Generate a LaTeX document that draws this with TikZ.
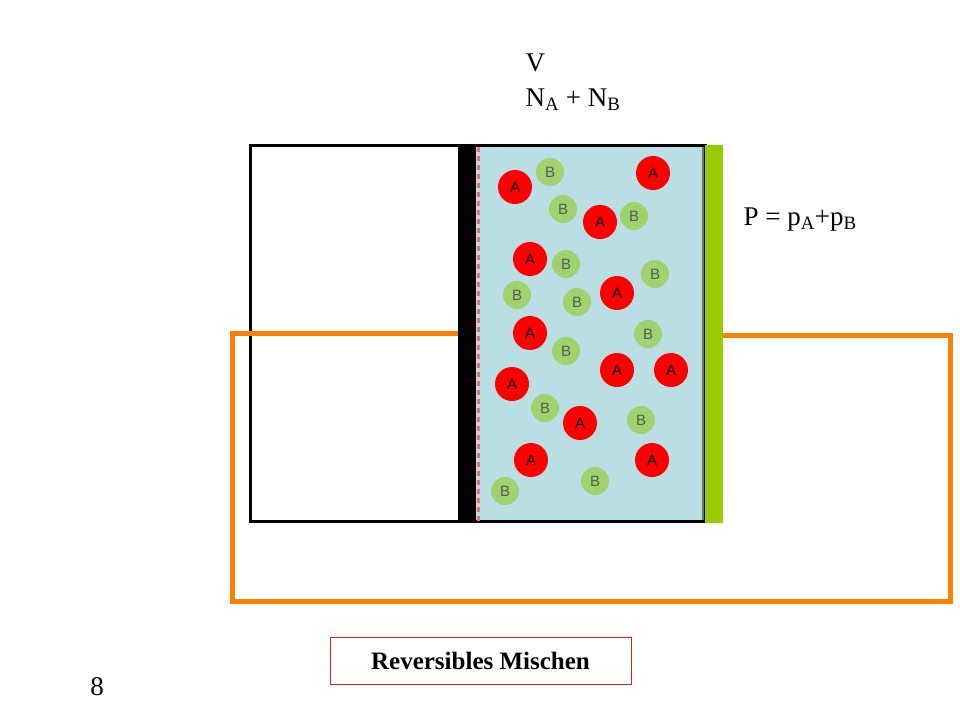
\documentclass[tikz,border=0pt]{standalone}
\usepackage{fontspec}
\setmainfont{Liberation Serif}
\newfontfamily\sansf{Liberation Sans}
\usepackage{tikz}
\definecolor{gasblue}{RGB}{185,222,228}
\definecolor{wallgreen}{RGB}{153,204,0}
\definecolor{ballgreen}{RGB}{160,210,110}
\definecolor{pipeorange}{RGB}{250,130,0}
\definecolor{boxred}{RGB}{220,30,30}
\tikzset{
	partA/.style={circle,fill=red,minimum size=34pt,inner sep=0pt,font=\sansf\fontsize{15}{15}\selectfont},
	partB/.style={circle,fill=ballgreen,minimum size=28pt,inner sep=0pt,text=black!65,font=\sansf\fontsize{15}{15}\selectfont},
	lbl/.style={font=\fontsize{27}{30}\selectfont}
}
\begin{document}
\begin{tikzpicture}[x=1pt,y=-1pt]
	\useasboundingbox (0,0) rectangle (960,720);
	
	\fill[gasblue] (476,147) rectangle (703,521);
	\draw[black!55,line width=2pt] (703,147) -- (703,521);
	\draw[line width=3pt] (250,145) rectangle (705,521);
	\fill[black] (458,145) rectangle (476,521);
	\draw[red!60,line width=3pt,dash pattern=on 5pt off 4pt] (478,147) -- (478,521);
	\fill[wallgreen] (705,145) rectangle (723,523);
	
	\draw[pipeorange,line width=5pt] (458,333) -- (232,333) -- (232,601) -- (950,601) -- (950,335) -- (723,335);
	
	\foreach \x/\y [count=\i] in {515/187,653/173,600/222,530/259,617/293,530/333,617/370,671/370,512/384,580/423,531/460,652/460}
		\node[partA] (a\i) at (\x,\y) {A};
	\foreach \x/\y [count=\i] in {550/172,563/209,634/216,566/264,655/274,517/295,577/302,648/334,566/351,545/408,641/420,595/481,505/491}
		\node[partB] (b\i) at (\x,\y) {B};
	
	\node[lbl,anchor=west] (vol) at (522,63) {V};
	\node[lbl,anchor=west] (num) at (522,100) {N$_\mathrm{A}$ + N$_\mathrm{B}$};
	\node[lbl,anchor=west] (pres) at (740,220) {P = p$_\mathrm{A}$+p$_\mathrm{B}$};
	\node[lbl] (page) at (97,687) {8};
	\node[draw=boxred,line width=1pt,font=\bfseries\fontsize{25}{28}\selectfont,minimum width=301pt,minimum height=47pt] (title) at (480.5,660.5) {Reversibles Mischen};
\end{tikzpicture}
\end{document}
